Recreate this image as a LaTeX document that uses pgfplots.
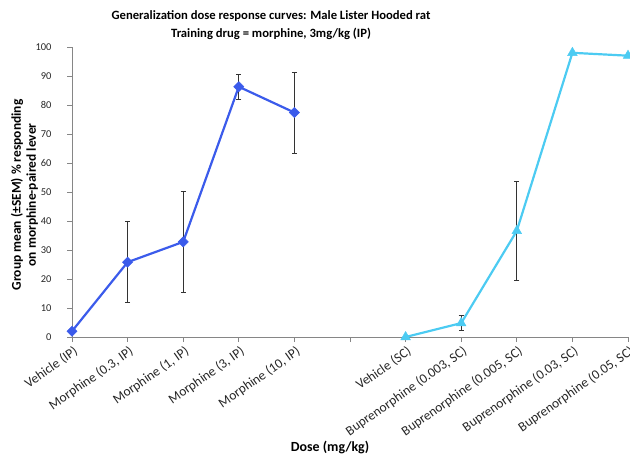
\documentclass[border=0pt]{standalone}
\usepackage{pgfplots}
\pgfplotsset{compat=1.18}
\usepackage{fontspec}
\setmainfont{Carlito}

\definecolor{morphblue}{RGB}{59,91,235}
\definecolor{bupcyan}{RGB}{76,203,242}
\definecolor{axisgray}{RGB}{134,134,134}

\begin{document}
\begin{tikzpicture}
\useasboundingbox (-72bp,-121bp) rectangle (558bp,337bp);
\begin{axis}[
  scale only axis,
  width=556bp, height=290bp,
  xmin=0, xmax=10, ymin=0, ymax=100,
  axis lines*=left,
  axis line style={axisgray, line width=0.8pt},
  tick style={axisgray, line width=0.8pt},
  tick align=outside,
  major tick length=5bp,
  clip=false,
  xtick={0,1,2,3,4,5,6,7,8,9,10},
  xticklabels={Vehicle (IP), {Morphine (0.3, IP)}, {Morphine (1, IP)}, {Morphine (3, IP)}, {Morphine (10, IP)}, {},
    Vehicle (SC), {Buprenorphine (0.003, SC)}, {Buprenorphine (0.005, SC)}, {Buprenorphine (0.03, SC)}, {Buprenorphine (0.05, SC)}},
  x tick label style={rotate=35, anchor=north east, font=\fontsize{13.5}{15}\selectfont, text=black!85, inner sep=1bp, yshift=-2bp},
  ytick={0,10,...,100},
  y tick label style={font=\fontsize{10.5}{12}\selectfont, text=black!85, xshift=-12bp},
  /pgf/number format/assume math mode=true,
  title={Generalization dose response curves: Male Lister Hooded rat\\Training drug = morphine, 3mg/kg (IP)},
  title style={at={(axis description cs:0.358,1)}, anchor=center, yshift=16bp, align=center,
    font=\bfseries\fontsize{12.7}{18}\selectfont},
  xlabel={Dose (mg/kg)},
  xlabel style={at={(axis description cs:0.464,0)}, anchor=center, yshift=-111bp, font=\bfseries\fontsize{14}{16}\selectfont},
  ylabel={Group mean (±SEM) \% responding\\on morphine-paired lever},
  ylabel style={at={(axis description cs:-0.0855,0.49)}, anchor=center, rotate=0, align=center,
    font=\bfseries\fontsize{13.5}{15}\selectfont},
  error bars/error bar style={black!80, line width=0.7pt},
  error bars/error mark options={rotate=90, mark size=2.5bp, black!80, line width=0.7pt},
]
% Morphine (IP) generalization curve
\addplot[color=morphblue, line width=2.2bp, mark=square*, mark size=3.6bp,
  mark options={rotate=45, fill=morphblue, draw=morphblue, line width=0.5pt},
  error bars/.cd, y dir=both, y explicit]
  coordinates {
    (0,2.0) +- (0,0)
    (1,25.8) +- (0,14.0)
    (2,32.8) +- (0,17.3)
    (3,86.3) +- (0,4.3)
    (4,77.4) +- (0,14.0)
  };
% Buprenorphine (SC) generalization curve
\addplot[color=bupcyan, line width=2.2bp, mark=triangle*, mark size=5.5bp,
  mark options={fill=bupcyan, draw=bupcyan, line width=0.5pt},
  error bars/.cd, y dir=both, y explicit]
  coordinates {
    (6,0.0) +- (0,0)
    (7,4.8) +- (0,2.5)
    (8,36.6) +- (0,17.2)
    (9,98.0) +- (0,0)
    (10,97.0) +- (0,0)
  };
\end{axis}
\end{tikzpicture}
\end{document}
